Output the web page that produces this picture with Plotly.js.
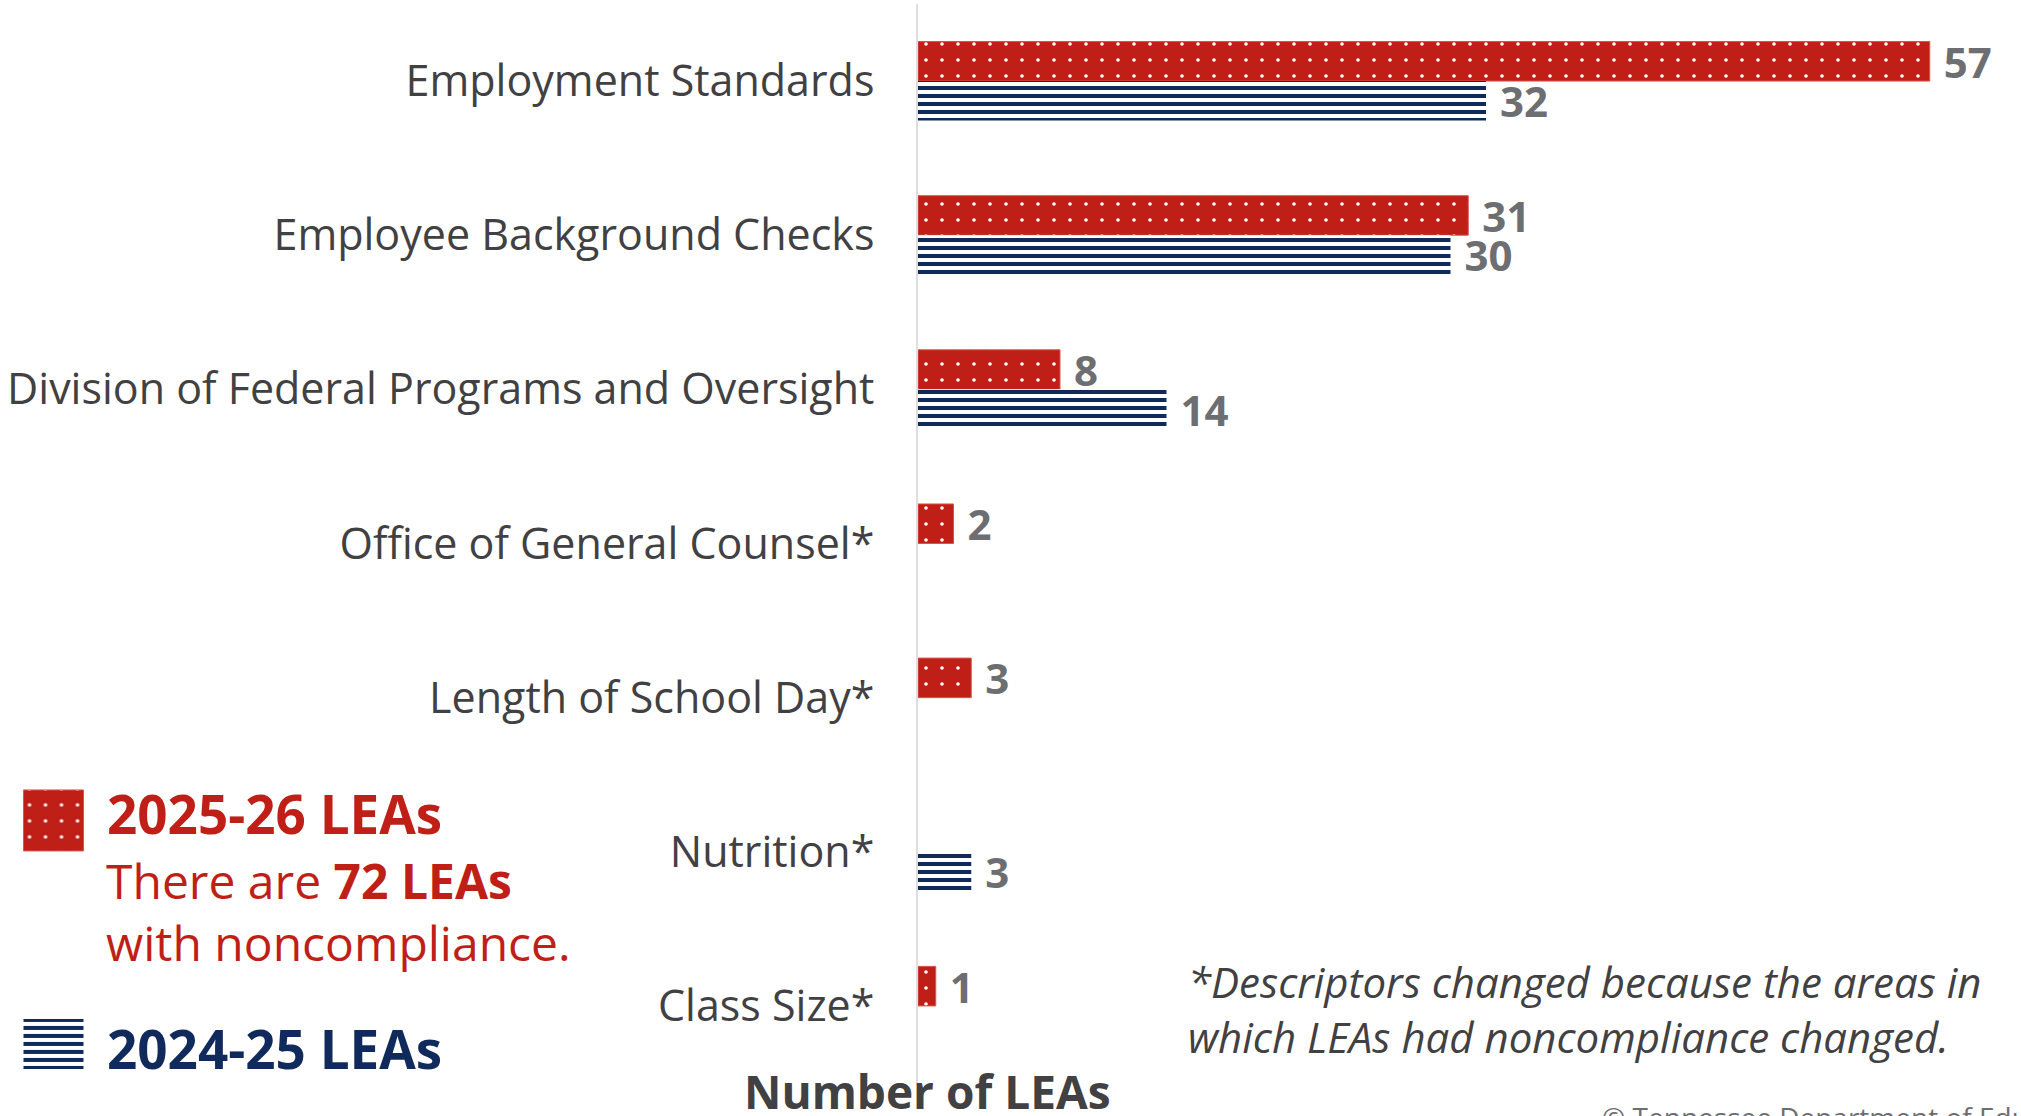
<!DOCTYPE html>
<html>
<head>
<meta charset="utf-8">
<script src="https://cdn.plot.ly/plotly-3.0.1.min.js"></script>
<style>
  html, body { margin: 0; padding: 0; background: #ffffff; }
  #chart { width: 2021px; height: 1116px; }
</style>
</head>
<body>
<div id="chart"></div>
<script>
// ---- Data ----
const categories = [
  "Employment Standards",
  "Employee Background Checks",
  "Division of Federal Programs and Oversight",
  "Office of General Counsel*",
  "Length of School Day*",
  "Nutrition*",
  "Class Size*"
];
const leas2025_26 = [57, 31, 8, 2, 3, null, 1];
const leas2024_25 = [32, 30, 14, null, null, 3, null];
const seriesNames = ["2025-26 LEAs", "2024-25 LEAs"];
const xAxisTitle = "Number of LEAs";
const noteText = "*Descriptors changed because the areas in<br>which LEAs had noncompliance changed.";
const totalText = "There are <b>72 LEAs</b><br>with noncompliance.";
const creditText = "© Tennessee Department of Education";

// ---- Styling ----
const RED = "#C01F17";
const NAVY = "#0F2A5B";
const LABEL = "#414042";
const VALUE = "#6D6E71";
const FONT = "Open Sans, sans-serif";

const W = 2021, H = 1116;
const M = { l: 918, r: 0, t: 4, b: 33 };
const plotW = W - M.l - M.r;
const plotH = H - M.t - M.b;
const pxPerUnit = 17.75;
const xMax = plotW / pxPerUnit;
const xp = px => (px - M.l) / plotW;
const yp = py => (H - M.b - py) / plotH;

const traceRed = {
  type: "bar", orientation: "h",
  name: "<b>" + seriesNames[0] + "</b>",
  y: categories, x: leas2025_26,
  marker: {
    color: RED,
    line: { color: "#D9544D", width: 1 },
    pattern: { shape: ".", bgcolor: RED, fgcolor: "#ffffff", fgopacity: 1, size: 16, solidity: 0.04, fillmode: "overlay" }
  },
  texttemplate: "\u00a0%{x}",
  textposition: "outside",
  constraintext: "none",
  cliponaxis: false,
  textfont: { family: FONT, size: 42, color: VALUE, weight: 700 },
  hoverinfo: "skip",
  legend: "legend"
};
const traceNavy = {
  type: "bar", orientation: "h",
  name: "<b>" + seriesNames[1] + "</b>",
  y: categories, x: leas2024_25,
  marker: {
    color: NAVY,
    line: { color: "#ffffff", width: 0 },
    pattern: { shape: "-", bgcolor: "#ffffff", fgcolor: NAVY, fgopacity: 1, size: 8, solidity: 0.5, fillmode: "overlay" }
  },
  texttemplate: "\u00a0%{x}",
  textposition: "outside",
  constraintext: "none",
  cliponaxis: false,
  textfont: { family: FONT, size: 42, color: VALUE, weight: 700 },
  hoverinfo: "skip",
  legend: "legend2"
};

const layout = {
  width: W, height: H,
  margin: { l: M.l, r: M.r, t: M.t, b: M.b, pad: 0, autoexpand: false },
  paper_bgcolor: "#ffffff", plot_bgcolor: "#ffffff",
  font: { family: FONT, color: LABEL },
  barmode: "group",
  bargap: 0.487,
  bargroupgap: 0,
  showlegend: true,
  xaxis: {
    range: [0, xMax], showgrid: false, zeroline: false,
    showticklabels: false, ticks: "", showline: false, fixedrange: true
  },
  yaxis: {
    type: "category", categoryorder: "array", categoryarray: categories,
    range: [6.5, -0.5], autorange: false,
    showgrid: false, zeroline: false, ticks: "",
    showline: true, linecolor: "#DEDEDE", linewidth: 2,
    tickfont: { family: FONT, size: 43, color: LABEL },
    ticklabelstandoff: 33, automargin: false, fixedrange: true
  },
  legend: {
    x: xp(0), xanchor: "left", y: yp(813), yanchor: "middle",
    bgcolor: "rgba(0,0,0,0)", borderwidth: 0,
    font: { family: FONT, size: 53, color: RED },
    itemwidth: 97, itemclick: false, itemdoubleclick: false, valign: "middle"
  },
  legend2: {
    x: xp(0), xanchor: "left", y: yp(1048), yanchor: "middle",
    bgcolor: "rgba(0,0,0,0)", borderwidth: 0,
    font: { family: FONT, size: 53, color: NAVY },
    itemwidth: 97, itemclick: false, itemdoubleclick: false, valign: "middle"
  },
  annotations: [
    {
      text: "<b>" + xAxisTitle + "</b>", xref: "paper", yref: "paper",
      x: xp(927), y: yp(1091), xanchor: "center", yanchor: "middle",
      showarrow: false, font: { family: FONT, size: 46, color: LABEL }
    },
    {
      text: noteText, xref: "paper", yref: "paper",
      x: xp(1186), y: yp(1009), xanchor: "left", yanchor: "middle", align: "left",
      showarrow: false, font: { family: FONT, size: 42, color: LABEL, style: "italic" }
    },
    {
      text: totalText, xref: "paper", yref: "paper",
      x: xp(104), y: yp(911), xanchor: "left", yanchor: "middle", align: "left",
      showarrow: false, font: { family: FONT, size: 48, color: RED }
    },
    {
      text: creditText, xref: "paper", yref: "paper",
      x: xp(1600), y: yp(1096), xanchor: "left", yanchor: "top", align: "left",
      showarrow: false, font: { family: FONT, size: 28, color: VALUE }
    }
  ]
};

// legend swatch outlines (relative to legend item centre)
const swatchPaths = ["M30,38H-30V-23H30Z", "M30,21H-30V-29H30Z"];

Plotly.newPlot("chart", [traceRed, traceNavy], layout, { displayModeBar: false, staticPlot: true })
  .then(function (gd) {
    const barTraces = gd.querySelectorAll(".barlayer .trace");
    gd.querySelectorAll(".traces").forEach(function (t) {
      const d = t.__data__;
      const tr = d && d[0] && d[0].trace;
      if (!tr) return;
      const p = t.querySelector(".legendpoints path");
      if (!p) return;
      p.setAttribute("d", swatchPaths[tr.index]);
      const barTrace = barTraces[tr.index];
      const bp = barTrace && barTrace.querySelector(".point path");
      if (bp && bp.style.fill) p.style.fill = bp.style.fill;
    });
  });
</script>
</body>
</html>
